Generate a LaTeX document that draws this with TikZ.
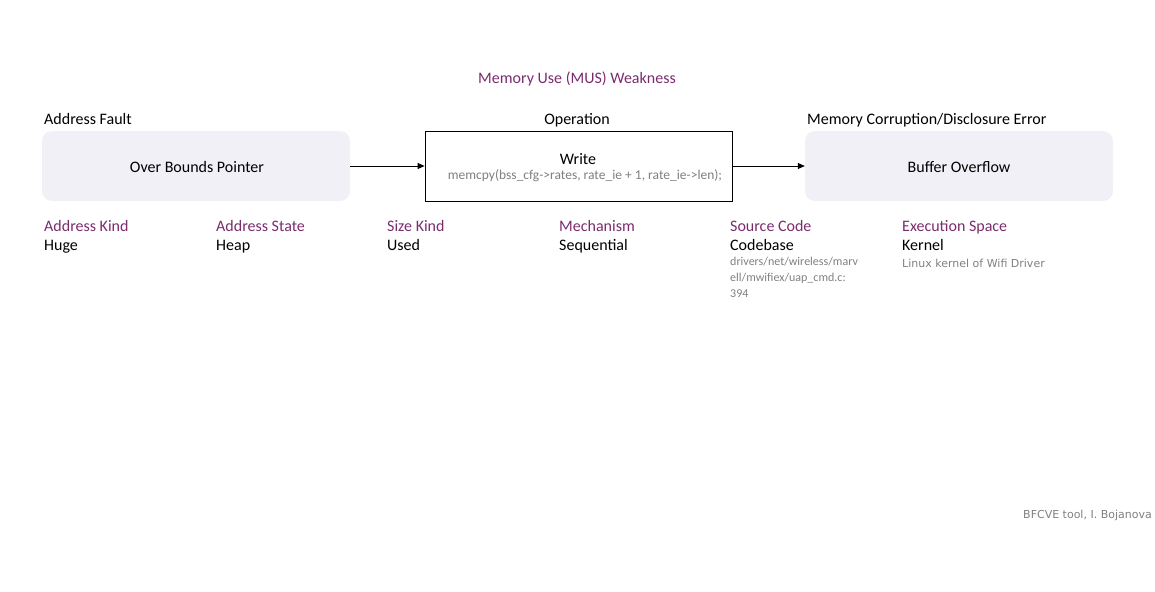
\documentclass[tikz,border=0pt]{standalone}
\usepackage{fontspec}
\setmainfont{Carlito}
\newfontfamily\tahoma{DejaVu Sans}
\usetikzlibrary{arrows.meta}
\definecolor{purp}{HTML}{7A2C6E}
\definecolor{boxfill}{HTML}{F1F0F6}
\definecolor{graytxt}{HTML}{808080}
\begin{document}
\begin{tikzpicture}[x=1pt,y=-1pt,
  main/.style={font=\fontsize{16}{18}\selectfont, inner sep=0pt},
  attr/.style={font=\fontsize{16}{18}\selectfont, text=purp, inner sep=0pt, anchor=base west},
  val/.style={font=\fontsize{16}{18}\selectfont, text=black, inner sep=0pt, anchor=base west},
  detail/.style={font=\fontsize{12}{16.2}\selectfont, text=graytxt, inner sep=0pt, anchor=north west, align=left},
  small/.style={font=\tahoma\fontsize{11}{13}\selectfont, text=graytxt, inner sep=0pt},
  softbox/.style={fill=boxfill, rounded corners=10pt, minimum width=308pt, minimum height=70pt, inner sep=0pt},
  opbox/.style={draw=black, line width=0.8pt, fill=white, minimum width=307pt, minimum height=70pt, inner sep=0pt},
  conn/.style={-{Triangle[length=7pt,width=6pt]}, line width=0.8pt}
]
\useasboundingbox (0,0) rectangle (1155,591);
\node[main, text=purp, anchor=base] (title) at (577,83.5) {Memory Use (MUS) Weakness};

\node[softbox] (fault) at (196,166) {};
\node[main, anchor=base] (faulttxt) at (197,172) {Over Bounds Pointer};
\node[main, anchor=base west] (faultlbl) at (44,124.5) {Address Fault};

\node[opbox] (op) at (578.5,166) {};
\node[main, anchor=base] (optxt) at (578,164) {Write};
\node[font=\fontsize{13.5}{15}\selectfont, text=graytxt, inner sep=0pt, anchor=base] (code) at (585,179.5) {memcpy(bss\_cfg->rates, rate\_ie + 1, rate\_ie->len);};
\node[main, anchor=base] (oplbl) at (577,124.5) {Operation};

\node[softbox] (res) at (959,166) {};
\node[main, anchor=base] (restxt) at (959,172) {Buffer Overflow};
\node[main, anchor=base west] (reslbl) at (807,124.5) {Memory Corruption/Disclosure Error};

\draw[conn] (fault.east) -- (op.west);
\draw[conn] (op.east) -- (res.west);

\node[attr] (a1) at (44,231.5) {Address Kind};
\node[val] (v1) at (44,250.5) {Huge};
\node[attr] (a2) at (216,231.5) {Address State};
\node[val] (v2) at (216,250.5) {Heap};
\node[attr] (a3) at (387,231.5) {Size Kind};
\node[val] (v3) at (387,250.5) {Used};
\node[attr] (a4) at (559,231.5) {Mechanism};
\node[val] (v4) at (559,250.5) {Sequential};
\node[attr] (a5) at (730,231.5) {Source Code};
\node[val] (v5) at (730,250.5) {Codebase};
\node[detail] (d5) at (730,257) {drivers/net/wireless/marv\\ell/mwifiex/uap\_cmd.c:\\394};
\node[attr] (a6) at (902,231.5) {Execution Space};
\node[val] (v6) at (902,250.5) {Kernel};
\node[small, anchor=west] (d6) at (902,263) {Linux kernel of Wifi Driver};

\node[small, anchor=east] (credit) at (1152,515) {BFCVE tool, I. Bojanova};
\end{tikzpicture}
\end{document}
